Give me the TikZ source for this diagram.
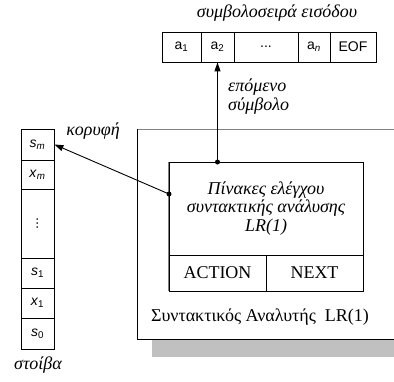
\documentclass[tikz,border=0pt]{standalone}
\usepackage{fontspec}
\setmainfont{Liberation Serif}
\newfontfamily\sansf{Liberation Sans}
\usetikzlibrary{arrows.meta}
\definecolor{shadowgray}{RGB}{192,192,192}
\definecolor{edgegray}{RGB}{128,128,128}
\tikzset{
  cell/.style={draw, line width=0.8pt, minimum height=30pt, inner sep=0pt, font=\sansf\fontsize{14}{16}\selectfont},
  gtext/.style={font=\itshape\fontsize{18}{19}\selectfont, inner sep=0pt},
  rtext/.style={font=\fontsize{18}{19}\selectfont, inner sep=0pt},
  arr/.style={line width=0.9pt, -{Triangle[length=9pt,width=6pt]}},
  dotc/.style={circle, fill, inner sep=0pt, minimum size=5pt},
}
\newcommand{\sbx}[1]{\textsubscript{#1}}
\begin{document}
\begin{tikzpicture}[x=1pt,y=-1pt]
\useasboundingbox (0,0) rectangle (394,381);
\clip (0,0) rectangle (394,381);
% parser box with shadow
\fill[shadowgray] (152,145) rectangle (420,357);
\fill[white] (137,129) rectangle (410,339);
\draw[edgegray, line width=1pt] (137,129) -- (410,129);
\draw[line width=0.9pt] (410,339) -- (137,339) -- (137,129);
% input tape
\node[cell, minimum width=39pt] (a1) at (181.5,47) {a\sbx{1}};
\node[cell, minimum width=33pt] (a2) at (217.5,47) {a\sbx{2}};
\node[cell, minimum width=64pt] (ad) at (266,47) {...};
\node[cell, minimum width=32pt] (an) at (314,47) {a\sbx{\itshape n}};
\node[cell, minimum width=46pt] (eof) at (353,47) {EOF};
\node[gtext] (title) at (277,13) {συμβολοσειρά εισόδου};
% stack
\node[cell, minimum width=33pt, minimum height=31pt] (sm) at (37.5,144.5) {\textit{s}\sbx{\itshape m}};
\node[cell, minimum width=33pt, minimum height=29pt] (xm) at (37.5,174.5) {\textit{x}\sbx{\itshape m}};
\node[cell, minimum width=33pt, minimum height=69pt] (sd) at (37.5,223.5) {\rotatebox{90}{...}};
\node[cell, minimum width=33pt, minimum height=30pt] (s1) at (37.5,273) {\textit{s}\sbx{1}};
\node[cell, minimum width=33pt, minimum height=30pt] (x1) at (37.5,303) {\textit{x}\sbx{1}};
\node[cell, minimum width=33pt, minimum height=31pt] (s0) at (37.5,333.5) {\textit{s}\sbx{0}};
\node[gtext] (stlabel) at (38,365) {στοίβα};
% tables
\node[draw, line width=0.8pt, minimum width=194pt, minimum height=93pt, inner sep=0pt, align=center,
      font=\itshape\fontsize{18}{18.5}\selectfont] (tab) at (266,208.5) {Πίνακες ελέγχου\\συντακτικής ανάλυσης\\LR(1)};
\node[draw, line width=0.8pt, minimum width=97pt, minimum height=36pt, inner sep=0pt, rtext] (act) at (217.5,273) {ACTION};
\node[draw, line width=0.8pt, minimum width=97pt, minimum height=36pt, inner sep=0pt, rtext] (nxt) at (314.5,273) {NEXT};
\draw[edgegray, line width=0.9pt] (tab.north west) -- (act.south west);
\node[rtext] (plabel) at (260,317) {Συντακτικός Αναλυτής\ \ LR(1)};
% connectors
\coordinate (topdot) at (217.5,162);
\coordinate (leftdot) at (169,194);
\node[dotc] (td) at (topdot) {};
\node[dotc] (ld) at (leftdot) {};
\draw[arr] (td.center) -- (a2.south);
\draw[arr] (ld.center) -- (sm.east);
\node[gtext, align=left, anchor=west] (next) at (228,97) {επόμενο\\σύμβολο};
\node[gtext] (top) at (93,131) {κορυφή};
\end{tikzpicture}
\end{document}
